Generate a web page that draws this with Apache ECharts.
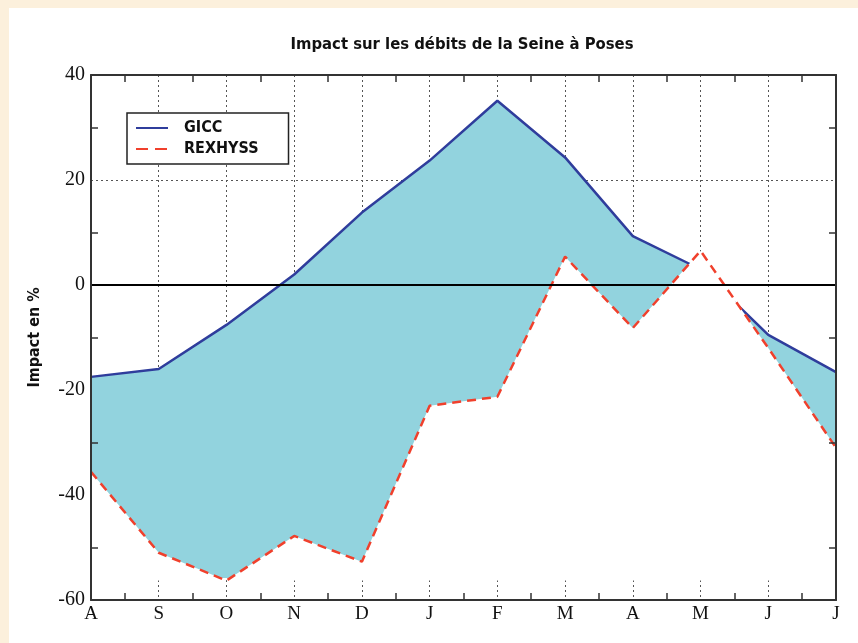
<!DOCTYPE html>
<html>
<head>
<meta charset="utf-8">
<script src="https://cdn.jsdelivr.net/npm/echarts@6/dist/echarts.min.js"></script>
<style>
  html, body { margin: 0; padding: 0; background: #fcf0dc; }
  #chart { width: 858px; height: 643px; }
</style>
</head>
<body>
<div id="chart"></div>
<script>
// Month initials from August to July
const months = ['A', 'S', 'O', 'N', 'D', 'J', 'F', 'M', 'A', 'M', 'J', 'J'];
// Impact on Seine discharge at Poses (%), per model
const gicc    = [-17.5, -16.0, -7.6, 2.0, 13.8, 23.7, 35.1, 24.3, 9.3, 3.0, -9.5, -16.6];
const rexhyss = [-35.6, -51.0, -56.3, -47.8, -52.7, -23.0, -21.3, 5.4, -8.2, 6.5, -12.0, -31.0];
const seriesNames = ['GICC', 'REXHYSS'];

const toPoints = vals => vals.map((v, i) => [i, v]);
// lowest value reached by either curve: the shading stops there
const fillFloor = Math.min(...rexhyss, ...gicc);

const frameColor = '#333';
const sansNarrow = '"Liberation Sans Narrow", "DejaVu Sans Condensed", sans-serif';
const serif = '"Liberation Serif", "DejaVu Serif", serif';
const gridLine = { show: true, lineStyle: { color: '#555', width: 1, type: [2, 3] } };

// Axes that only draw the box frame with inward ticks half-way between grid lines
function frameAxis(position, extra) {
  return Object.assign({
    type: 'value',
    position: position,
    z: 6,
    axisLine: { show: true, onZero: false, lineStyle: { color: frameColor, width: 2 } },
    axisTick: { show: false, inside: true },
    minorTick: { show: true, splitNumber: 2, length: 7, lineStyle: { color: frameColor, width: 1.5 } },
    axisLabel: { show: false },
    splitLine: { show: false }
  }, extra);
}

const xRange = { min: 0, max: months.length - 1, interval: 1 };
const yRange = { min: -60, max: 40, interval: 20 };

const chart = echarts.init(document.getElementById('chart'), null, { renderer: 'canvas' });

chart.setOption({
  animation: false,
  backgroundColor: '#fcf0dc',
  graphic: [
    { type: 'rect', left: 9, top: 8, shape: { width: 849, height: 635 }, style: { fill: '#ffffff' }, z: -10 },
    {
      type: 'text', x: 462, y: 45, z: 10,
      style: {
        text: 'Impact sur les débits de la Seine à Poses',
        fill: '#111', align: 'center', verticalAlign: 'middle',
        font: 'bold 16.5px ' + sansNarrow
      }
    }
  ],
  grid: { left: 91, right: 22, top: 75, bottom: 43, containLabel: false },
  legend: {
    data: [
      { name: seriesNames[0] },
      { name: seriesNames[1], lineStyle: { type: [12, 7] } }
    ],
    orient: 'vertical',
    left: 127, top: 113,
    itemWidth: 32, itemHeight: 14, itemGap: 5,
    padding: [7, 30, 7, 8],
    backgroundColor: '#ffffff',
    borderColor: '#222', borderWidth: 1.5, borderRadius: 0,
    itemStyle: { opacity: 0 },
    textStyle: {
      fontFamily: sansNarrow,
      fontWeight: 'bold', fontSize: 16, color: '#111', padding: [0, 0, 0, 11]
    }
  },
  xAxis: [
    Object.assign({
      type: 'value', position: 'bottom',
      axisLine: { show: false, onZero: false },
      axisTick: { show: false },
      axisLabel: {
        formatter: v => months[v],
        fontFamily: serif, fontSize: 19, color: '#111', margin: 5
      },
      splitLine: gridLine
    }, xRange),
    frameAxis('bottom', xRange),
    frameAxis('top', xRange)
  ],
  yAxis: [
    Object.assign({
      type: 'value', position: 'left',
      name: 'Impact en %', nameLocation: 'middle', nameGap: 48,
      nameTextStyle: { fontFamily: sansNarrow, fontWeight: 'bold', fontSize: 16, color: '#111' },
      axisLine: { show: false, onZero: false },
      axisTick: { show: false },
      axisLabel: { fontFamily: serif, fontSize: 20, color: '#111', margin: 6 },
      splitLine: gridLine
    }, yRange),
    frameAxis('left', yRange),
    frameAxis('right', yRange)
  ],
  series: [
    {
      name: seriesNames[0], type: 'line', data: toPoints(gicc),
      symbol: 'none', z: 2,
      lineStyle: { color: '#2f3d9c', width: 2.5 },
      itemStyle: { color: '#2f3d9c' },
      areaStyle: { color: '#92d3de', opacity: 1, origin: fillFloor + 0.5 }
    },
    {
      name: seriesNames[1], type: 'line', data: toPoints(rexhyss),
      symbol: 'none', z: 3,
      lineStyle: { color: '#f0402c', width: 2.5, type: [9, 6] },
      itemStyle: { color: '#f0402c' },
      areaStyle: { color: '#ffffff', opacity: 1, origin: fillFloor }
    },
    {
      name: 'zero', type: 'line', data: [], z: 4, silent: true,
      markLine: {
        silent: true, symbol: 'none', label: { show: false },
        lineStyle: { color: '#000', width: 2, type: 'solid' },
        data: [{ yAxis: 0 }]
      }
    }
  ]
});
</script>
</body>
</html>
